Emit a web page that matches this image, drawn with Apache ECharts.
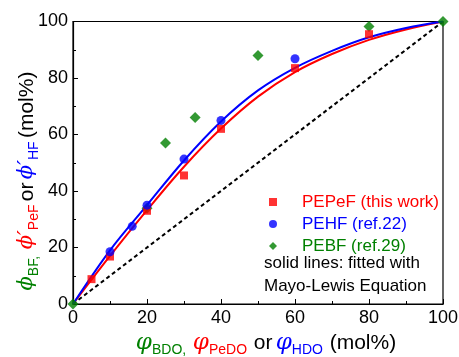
<!DOCTYPE html>
<html>
<head>
<meta charset="utf-8">
<script src="https://cdn.jsdelivr.net/npm/echarts@6/dist/echarts.min.js"></script>
<style>
  html, body { margin: 0; padding: 0; background: #fff; }
  #chart { width: 459px; height: 357px; }
</style>
</head>
<body>
<div id="chart"></div>
<script>
const pepefX = [5, 10, 20, 30, 40, 60, 80];
const pepefY = [8.8, 16.8, 33, 45.5, 62, 83.5, 95.5];
const pehfX = [10, 16, 20, 30, 40, 60];
const pehfY = [18.5, 27.5, 35, 51.3, 65, 86.8];
const pebfX = [0, 20, 25, 33, 50, 80, 100];
const pebfY = [0, 33.9, 57, 66, 88, 98.2, 100];

// fitted Mayo-Lewis curves, every 10 mol%
const fitX = [0, 10, 20, 30, 40, 50, 60, 70, 80, 90, 100];
const fitBlueY = [0, 19, 35, 50.8, 64.6, 75.6, 83.6, 89.6, 94.4, 97.7, 100];
const fitRedY = [0, 17, 33.2, 48.6, 62.1, 73.4, 82.1, 88.5, 93.5, 97.2, 100];

const diagX = [0, 100];
const diagY = [0, 100];

const RED = "#ff0000";
const BLUE = "#0000ff";
const GREEN = "#008000";

const zip = (xs, ys) => xs.map((x, i) => [x, ys[i]]);

// rich text styles for the axis names (greek letter + subscript)
// color is for axis names, fill is for graphic text
const makeRich = (greekSize, subSize) => {
  const greek = { fontSize: greekSize, fontStyle: "italic", fontFamily: "DejaVu Serif", lineHeight: 28 };
  const sub = { fontSize: subSize, lineHeight: subSize, verticalAlign: "bottom", fontFamily: "Liberation Sans" };
  const paint = (c) => ({ color: c, fill: c });
  return {
    g: { ...greek, ...paint(GREEN) },
    gs: { ...sub, ...paint(GREEN) },
    r: { ...greek, ...paint(RED) },
    rs: { ...sub, ...paint(RED) },
    b: { ...greek, ...paint(BLUE) },
    bs: { ...sub, ...paint(BLUE) },
    k: { fontSize: 21, lineHeight: 28, fontFamily: "Liberation Sans", ...paint("#000") },
  };
};

const chart = echarts.init(document.getElementById("chart"), null, { renderer: "canvas" });

const option = {
  animation: false,
  textStyle: { fontFamily: "Liberation Sans" },
  grid: {
    left: 73,
    right: 16,
    top: 21.5,
    bottom: 53,
    outerBoundsMode: "none",
    containLabel: false,
    show: true,
    borderColor: "#000",
    borderWidth: 1.2,
  },
  legend: {
    orient: "vertical",
    left: 264,
    top: 188,
    itemWidth: 8,
    itemHeight: 8,
    itemGap: 4,
    symbolKeepAspect: true,
    textStyle: { fontSize: 17, lineHeight: 18, padding: [0, 0, 0, 20] },
    data: [
      { name: "PEPeF (this work)", icon: "rect", textStyle: { color: RED } },
      { name: "PEHF (ref.22)", icon: "circle", textStyle: { color: BLUE } },
      { name: "PEBF (ref.29)", icon: "diamond", textStyle: { color: GREEN } },
    ],
  },
  graphic: [
    {
      type: "text",
      left: 264,
      top: 252,
      style: {
        text: "solid lines: fitted with\nMayo-Lewis Equation",
        font: "17px Liberation Sans",
        lineHeight: 23,
        fill: "#000",
      },
    },
    {
      // y axis title, rotated
      type: "text",
      x: 27,
      y: 181,
      rotation: Math.PI / 2,
      style: {
        text: "{g|ϕ}{gs|BF,}  {r|ϕ′}{rs|PeF} {k|or} {b|ϕ′}{bs|HF} {k|(mol%)}",
        rich: makeRich(21, 14),
        align: "center",
        verticalAlign: "middle",
      },
    },
  ],
  xAxis: {
    type: "value",
    min: 0,
    max: 100,
    interval: 20,
    name: "{g|φ}{gs|BDO}{gs|,}  {r|φ}{rs|PeDO}  {k|or} {b|φ}{bs|HDO}  {k|(mol%)}",
    nameLocation: "middle",
    nameGap: 19,
    nameTextStyle: { rich: makeRich(23, 14), padding: [0, 0, 0, 16] },
    axisLine: { lineStyle: { color: "#000", width: 1.2 } },
    axisTick: { inside: true, length: 5, lineStyle: { color: "#000" } },
    minorTick: { show: true, splitNumber: 2, length: 3, lineStyle: { color: "#000" } },
    axisLabel: { fontSize: 18, color: "#000", margin: 5 },
    splitLine: { show: false },
  },
  yAxis: {
    type: "value",
    min: 0,
    max: 100,
    interval: 20,
    axisLine: { lineStyle: { color: "#000", width: 1.2 } },
    axisTick: { inside: true, length: 5, lineStyle: { color: "#000" } },
    minorTick: { show: true, splitNumber: 2, length: 3, lineStyle: { color: "#000" } },
    axisLabel: { fontSize: 18, color: "#000", margin: 5 },
    splitLine: { show: false },
  },
  series: [
    {
      name: "diagonal",
      type: "line",
      data: zip(diagX, diagY),
      symbol: "none",
      lineStyle: { color: "#000", width: 2, type: [4, 3] },
      z: 1,
    },
    {
      name: "fit PEPeF",
      type: "line",
      data: zip(fitX, fitRedY),
      smooth: 0.35,
      symbol: "none",
      lineStyle: { color: RED, width: 2 },
      z: 2,
    },
    {
      name: "fit PEHF",
      type: "line",
      data: zip(fitX, fitBlueY),
      smooth: 0.35,
      symbol: "none",
      lineStyle: { color: BLUE, width: 2 },
      z: 2,
    },
    {
      name: "PEBF (ref.29)",
      type: "scatter",
      data: zip(pebfX, pebfY),
      symbol: "diamond",
      symbolSize: 11,
      itemStyle: { color: GREEN },
      z: 3,
    },
    {
      name: "PEPeF (this work)",
      type: "scatter",
      data: zip(pepefX, pepefY),
      symbol: "rect",
      symbolSize: 8,
      itemStyle: { color: RED },
      z: 4,
    },
    {
      name: "PEHF (ref.22)",
      type: "scatter",
      data: zip(pehfX, pehfY),
      symbol: "circle",
      symbolSize: 9,
      itemStyle: { color: BLUE },
      z: 5,
    },
  ],
};

chart.setOption(option);
</script>
</body>
</html>
